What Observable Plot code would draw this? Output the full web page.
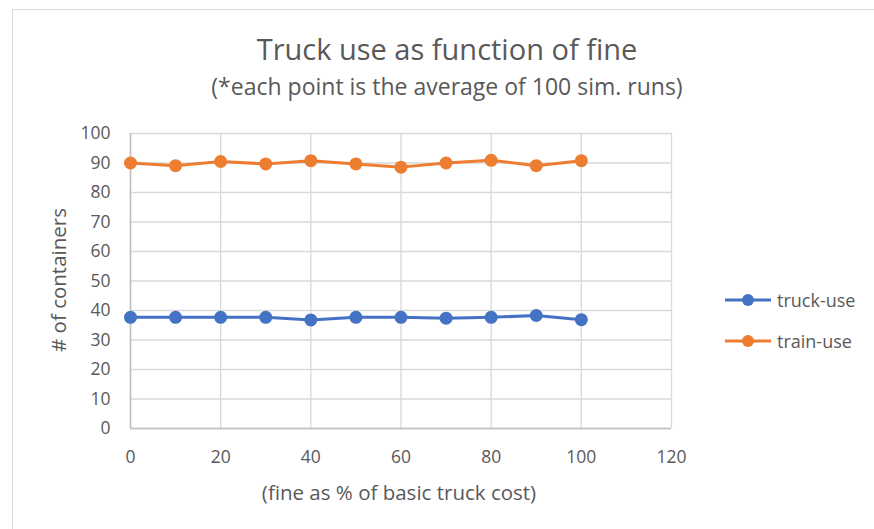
<!DOCTYPE html>
<html>
<head>
<meta charset="utf-8">
<script src="https://cdn.jsdelivr.net/npm/d3@7"></script>
<script src="https://cdn.jsdelivr.net/npm/@observablehq/plot@0.6"></script>
<style>
  body { margin: 0; background: #fff; font-family: "Open Sans", sans-serif; }
  #wrap { position: relative; width: 874px; height: 529px; overflow: hidden; background: #fff; }
  #frame { position: absolute; left: 12px; top: 9px; width: 880px; height: 540px; border: 1px solid #d9d9d9; }
  .t { position: absolute; color: #595959; white-space: nowrap; line-height: 1; }
  #title { left: 0; width: 894px; text-align: center; top: 34px; font-size: 29px; }
  #subtitle { left: 0; width: 894px; text-align: center; top: 75px; font-size: 23px; }
  #xlabel { left: 399px; transform: translateX(-50%); top: 482px; font-size: 20.5px; }
  #ylabel { left: 58px; top: 280px; transform: translate(-50%, -50%) rotate(-90deg); font-size: 20.5px; }
  #legend { position: absolute; left: 724px; top: 288px; font-size: 18px; color: #595959; }
  .li { display: flex; align-items: center; height: 24px; margin-bottom: 17px; }
  .li svg { margin-right: 5px; }
  #chart { position: absolute; left: 0; top: 0; }
</style>
</head>
<body>
<div id="wrap">
  <div id="frame"></div>
  <div id="chart"></div>
  <div class="t" id="title">Truck use as function of fine</div>
  <div class="t" id="subtitle">(*each point is the average of 100 sim. runs)</div>
  <div class="t" id="xlabel">(fine as % of basic truck cost)</div>
  <div class="t" id="ylabel"># of containers</div>
  <div id="legend"></div>
</div>
<script>
const fines = [0, 10, 20, 30, 40, 50, 60, 70, 80, 90, 100];
const truckUse = [37.7, 37.7, 37.7, 37.7, 36.8, 37.7, 37.7, 37.4, 37.7, 38.3, 36.9];
const trainUse = [90.0, 89.1, 90.5, 89.7, 90.8, 89.7, 88.6, 90.0, 90.9, 89.1, 90.8];
const seriesNames = ["truck-use", "train-use"];
const seriesColors = ["#4472c4", "#ed7d31"];
const xTicks = [0, 20, 40, 60, 80, 100, 120];
const yTicks = [0, 10, 20, 30, 40, 50, 60, 70, 80, 90, 100];

const data = [];
fines.forEach((f, i) => {
  data.push({fine: f, value: truckUse[i], series: seriesNames[0]});
  data.push({fine: f, value: trainUse[i], series: seriesNames[1]});
});

const chart = Plot.plot({
  width: 874,
  height: 529,
  marginLeft: 130,
  marginRight: 203,
  marginTop: 133,
  marginBottom: 101,
  style: {fontFamily: "Open Sans, sans-serif", fontSize: "17px", color: "#595959", background: "transparent"},
  x: {domain: [0, 120], ticks: xTicks, label: null, tickSize: 0},
  y: {domain: [0, 100], ticks: yTicks, label: null, tickSize: 0},
  color: {domain: seriesNames, range: seriesColors},
  marks: [
    Plot.gridX(xTicks, {stroke: "#d9d9d9", strokeOpacity: 1, strokeWidth: 1.3}),
    Plot.gridY(yTicks, {stroke: "#d9d9d9", strokeOpacity: 1, strokeWidth: 1.3}),
    Plot.ruleX([0], {stroke: "#bfbfbf", strokeWidth: 1.5}),
    Plot.ruleY([0], {stroke: "#bfbfbf", strokeWidth: 1.5}),
    Plot.axisX({ticks: xTicks, tickSize: 0, tickPadding: 22, fontSize: 17.5, fill: "#595959", label: null}),
    Plot.axisY({ticks: yTicks, tickSize: 0, tickPadding: 20, fontSize: 17.5, fill: "#595959", label: null}),
    Plot.line(data, {x: "fine", y: "value", stroke: "series", strokeWidth: 3}),
    Plot.dot(data, {x: "fine", y: "value", fill: "series", r: 6.5})
  ]
});
document.getElementById("chart").appendChild(chart);

const legend = document.getElementById("legend");
seriesNames.forEach((name, i) => {
  const row = document.createElement("div");
  row.className = "li";
  row.innerHTML = `<svg width="48" height="16"><line x1="1" y1="8" x2="47" y2="8" stroke="${seriesColors[i]}" stroke-width="3"/><circle cx="24" cy="8" r="6" fill="${seriesColors[i]}"/></svg><span>${name}</span>`;
  legend.appendChild(row);
});
</script>
</body>
</html>
